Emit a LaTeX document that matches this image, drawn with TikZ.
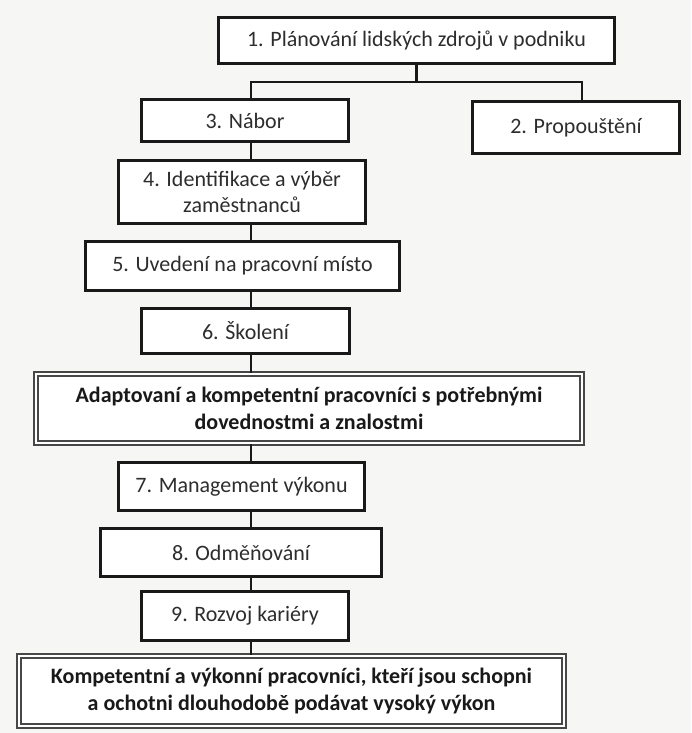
\documentclass[tikz,border=0pt]{standalone}
\usepackage{fontspec}
\setmainfont{Carlito}
\definecolor{pagebg}{RGB}{246,246,244}
\definecolor{ink}{RGB}{25,25,25}
\definecolor{txt}{RGB}{45,45,45}
\begin{document}
\begin{tikzpicture}[x=1pt,y=-1pt,
  stage/.style={draw=ink, line width=3pt, fill=white, align=center,
    text=txt, font=\fontsize{22}{26}\selectfont, inner sep=0pt},
  outcome/.style={draw=black!72, line width=1.8pt, double=white,
    double distance=2pt, fill=white, align=center, text=ink,
    font=\bfseries\fontsize{22}{27}\selectfont, inner sep=0pt},
  link/.style={draw=ink, line width=2.8pt}]
% page
\fill[pagebg] (0,0) rectangle (691,733);
\useasboundingbox (0,0) rectangle (691,733);

% stages of the process
\node[stage, minimum width=396pt, minimum height=46pt] (b1) at (416.5,40.5)
  {1. Plánování lidských zdrojů v podniku};
\node[stage, minimum width=207pt, minimum height=42pt] (b3) at (245,120.5)
  {3. Nábor};
\node[stage, minimum width=207pt, minimum height=52pt] (b2) at (576,127.5)
  {2. Propouštění};
\node[stage, minimum width=247pt, minimum height=63pt] (b4) at (242,192)
  {4. Identifikace a výběr\\zaměstnanců};
\node[stage, minimum width=314pt, minimum height=49pt] (b5) at (242.5,266)
  {5. Uvedení na pracovní místo};
\node[stage, minimum width=208pt, minimum height=45pt] (b6) at (245.5,331)
  {6. Školení};
\node[outcome, minimum width=546pt, minimum height=69pt] (bA) at (309,408.5)
  {Adaptovaní a kompetentní pracovníci s potřebnými\\dovednostmi a znalostmi};
\node[stage, minimum width=246pt, minimum height=48pt] (b7) at (241.5,486.5)
  {7. Management výkonu};
\node[stage, minimum width=281pt, minimum height=48pt] (b8) at (241,552.5)
  {8. Odměňování};
\node[stage, minimum width=207pt, minimum height=49pt] (b9) at (245,616)
  {9. Rozvoj kariéry};
\node[outcome, minimum width=545pt, minimum height=70pt] (bK) at (291.5,691)
  {Kompetentní a výkonní pracovníci, kteří jsou schopni\\a ochotni dlouhodobě podávat vysoký výkon};

% branching below the planning box
\coordinate (busL) at (251,82);
\coordinate (busR) at (582,82);
\draw[link] (b1.south) -- (b1.south |- busL);
\draw[link] (b3.north -| busL) -- (busL) -- (busR) -- (busR |- b2.north);

% main vertical chain
\draw[link] (b3.south -| busL) -- (b4.north -| busL);
\draw[link] (b4.south -| busL) -- (b5.north -| busL);
\draw[link] (b5.south -| busL) -- (b6.north -| busL);
\draw[link] (b6.south -| busL) -- (bA.north -| busL);
\draw[link] (bA.south -| busL) -- (b7.north -| busL);
\draw[link] (b7.south -| busL) -- (b8.north -| busL);
\draw[link] (b8.south -| busL) -- (b9.north -| busL);
\draw[link] (b9.south -| busL) -- (bK.north -| busL);
\end{tikzpicture}
\end{document}
